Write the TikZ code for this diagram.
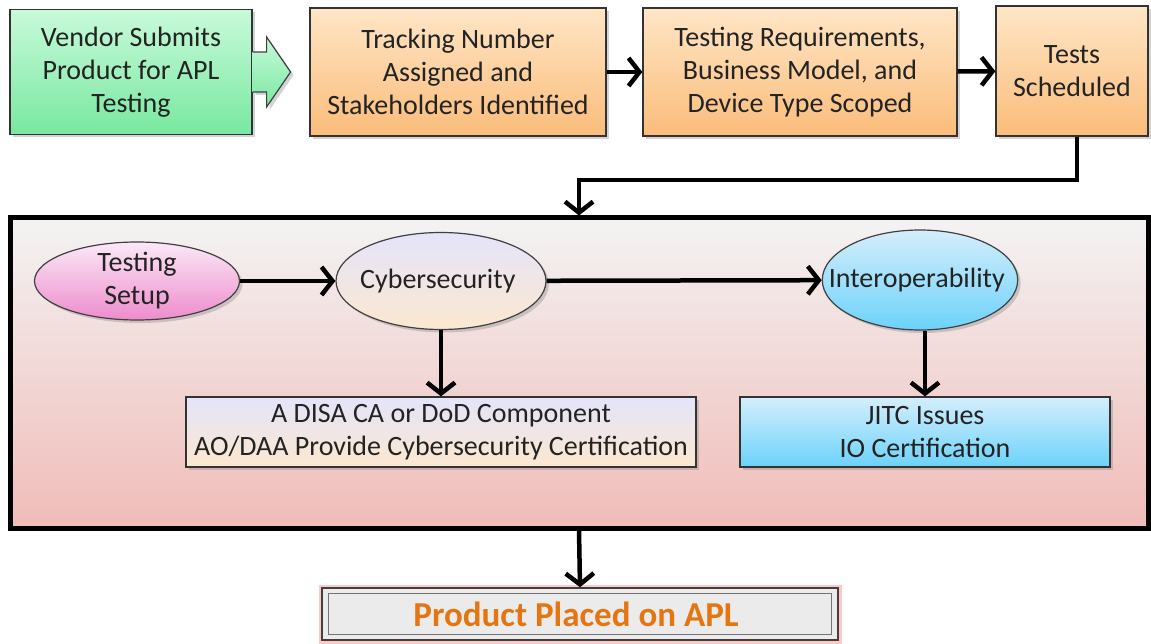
\documentclass[tikz,border=0pt]{standalone}
\usepackage{fontspec}
\setmainfont{Carlito}
\usetikzlibrary{shapes.geometric,arrows.meta,shadows,positioning}
\definecolor{txtgray}{RGB}{35,35,35}
\definecolor{greentop}{RGB}{200,250,218}
\definecolor{greenbot}{RGB}{120,232,160}
\definecolor{orangetop}{RGB}{255,230,198}
\definecolor{orangebot}{RGB}{250,188,122}
\definecolor{frametop}{RGB}{243,243,243}
\definecolor{framebot}{RGB}{240,188,184}
\definecolor{pinktop}{RGB}{250,232,246}
\definecolor{pinkbot}{RGB}{238,140,205}
\definecolor{lavtop}{RGB}{228,228,250}
\definecolor{peachbot}{RGB}{252,232,208}
\definecolor{bluetop}{RGB}{212,238,252}
\definecolor{bluebot}{RGB}{108,210,250}
\definecolor{aplorange}{RGB}{228,118,18}

\begin{document}
\begin{tikzpicture}[x=1pt, y=-1pt,
  every node/.style={font=\fontsize{28}{33}\selectfont, text=txtgray, align=center, inner sep=2pt},
  shadowed/.style={drop shadow={shadow xshift=3pt, shadow yshift=-3pt, opacity=.35}},
  stepbox/.style={shadowed, draw=black!80, line width=1.2pt, minimum height=128,
    top color=orangetop, bottom color=orangebot},
  oval/.style={shadowed, ellipse, draw=black!75, line width=1.2pt, inner xsep=-22pt, inner ysep=-7pt},
  certbox/.style={shadowed, draw=black!80, line width=1.2pt, minimum height=70},
  flow/.style={line width=4.5pt, -{Straight Barb[length=11pt, width=28pt]}},
  ]
\useasboundingbox (0,0) rectangle (1151,644);

%%% top row %%%
\node[shadowed, draw=black!80, line width=1.2pt, minimum width=242, minimum height=125,
  top color=greentop, bottom color=greenbot] (vendor) at (131,72)
  { Vendor Submits \\ Product for APL \\ Testing };
\node[stepbox, minimum width=296] (tracking) at (458,72)
  { Tracking Number \\ Assigned and \\ Stakeholders Identified };
\node[stepbox, minimum width=314] (scoped) at (800,72)
  { Testing Requirements, \\ Business Model, and \\ Device Type Scoped };
\node[stepbox, minimum width=152, minimum height=130] (scheduled) at (1072,71)
  { Tests \\ Scheduled };

%% block arrow out of the vendor box
\draw[shadowed, draw=black!75, line width=1.2pt, top color=greentop, bottom color=greenbot]
  (vendor.east) ++(0,-20) -- ++(14,0) -- ++(0,-15) -- ++(24,35)
  -- ++(-24,35) -- ++(0,-15) -- ++(-14,0);

\draw[flow] (tracking) -- (scoped);
\draw[flow] (scoped) -- (scheduled);

%%% testing frame %%%
\node[draw=black, line width=5pt, minimum width=1138, minimum height=310,
  top color=frametop, bottom color=framebot] (frame) at (579,373) {};
\coordinate (bend) at (579,180);
\draw[flow] ([xshift=5pt]scheduled.south) |- (bend) -- (frame.north);

\node[oval, minimum width=205, minimum height=78, top color=pinktop, bottom color=pinkbot]
  (setup) at (137,281) { Testing \\ Setup };
\node[oval, minimum width=210, minimum height=97, top color=lavtop, bottom color=peachbot]
  (cyber) at (441,281) { Cybersecurity };
\node[oval, minimum width=193, minimum height=100, top color=bluetop, bottom color=bluebot]
  (interop) at (920,280) { Interoperability };

\node[certbox, minimum width=510, top color=lavtop, bottom color=peachbot]
  (cert) at (441,432) { A DISA CA or DoD Component \\ AO/DAA Provide Cybersecurity Certification };
\node[certbox, minimum width=370, top color=bluetop, bottom color=bluebot]
  (jitc) at (925,432) { JITC Issues \\ IO Certification };

\draw[flow] (setup) -- (cyber);
\draw[flow] (cyber) -- (interop);
\draw[flow] (cyber) -- (cert);
\draw[flow] (interop.south -| jitc.north) -- (jitc);

%%% result %%%
\node[preaction={draw=red!22, line width=7pt}, draw=black!75, line width=1.5pt,
  fill=black!8, minimum width=516, minimum height=52,
  font=\fontsize{35}{40}\selectfont\bfseries, text=aplorange] (placed) at (580,614)
  { Product Placed on APL };
\draw[black!55, line width=1pt]
  ([shift={(7,6)}]placed.north west) rectangle ([shift={(-7,-6)}]placed.south east);
\draw[flow] (frame.south) -- (placed.north);
\end{tikzpicture}
\end{document}
